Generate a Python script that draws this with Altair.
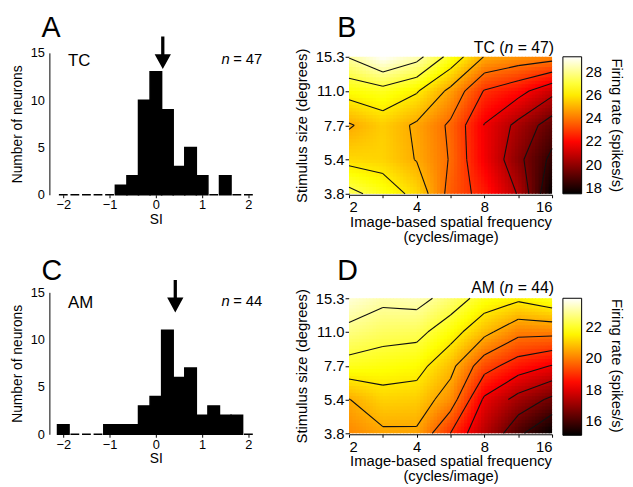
import json
import altair as alt
import pandas as pd

FONT = "Liberation Sans"

# ---------------- histogram data (SI, 0.25-wide bins) ----------------
si_bins = [-2.0, -1.75, -1.5, -1.25, -1.0, -0.75, -0.5, -0.25, 0.0,
           0.25, 0.5, 0.75, 1.0, 1.25, 1.5, 1.75, 2.0]
tc_counts = [0, 0, 0, 0, 0, 1, 2, 10, 13, 9, 3, 5, 2, 0, 2, 0, 0]
am_counts = [1, 0, 0, 0, 1, 1, 1, 3, 4, 11, 6, 7, 2, 3, 2, 2, 0]
tc_median_si = 0.15
am_median_si = 0.42

# ---------------- heat-map data ----------------
sf_tick_labels = ["2", "", "4", "", "8", "", "16"]          # 2 .. 16 cycles/image (half-octave grid)
size_tick_labels = ["3.8", "5.4", "7.7", "11.0", "15.3"]      # stimulus size (deg)

# firing rate (spikes/s); one list per stimulus size, columns = spatial frequency 2 .. 16
tc_rate_3_8 = [27.4, 26.6, 25.7, 23.5, 22.4, 20.6, 17.5]
tc_rate_5_4 = [25.7, 25.6, 24.9, 23.8, 21.75, 19.9, 18.3]
tc_rate_7_7 = [24.85, 25.5, 24.8, 23.7, 21.7, 20.4, 19.1]
tc_rate_11_0 = [26.4, 26.7, 26.1, 24.7, 22.75, 22.1, 21.0]
tc_rate_15_3 = [28.2, 29.3, 28.5, 26.7, 24.9, 24.5, 24.3]

am_rate_3_8 = [20.1, 20.45, 20.46, 19.0, 17.45, 16.05, 15.1]
am_rate_5_4 = [20.55, 21.06, 21.0, 20.2, 18.1, 17.18, 16.5]
am_rate_7_7 = [21.87, 21.74, 21.62, 20.8, 19.32, 18.64, 18.2]
am_rate_11_0 = [22.71, 22.44, 22.37, 21.67, 20.78, 20.0, 20.0]
am_rate_15_3 = [23.46, 23.1, 23.2, 22.6, 21.8, 21.5, 21.9]

tc_levels = [18.56, 19.63, 20.69, 21.75, 22.82, 23.88, 24.95, 26.01, 27.07, 28.14]
am_levels = [15.88, 16.66, 17.45, 18.23, 19.01, 19.79, 20.57, 21.35, 22.14, 22.92]

tc_colorbar_range = [17.5, 29.3]
am_colorbar_range = [15.1, 23.8]
tc_colorbar_ticks = [18, 20, 22, 24, 26, 28]
am_colorbar_ticks = [16, 18, 20, 22]

HOT = ["#000000", "#ff0000", "#ffff00", "#ffffff"]
SUB = 10
NX, NY = 6 * SUB, 4 * SUB
ARROW = "M-0.1,-1 L0.1,-1 L0.1,0.08 L0.5,0.08 L0,1 L-0.5,0.08 L-0.1,0.08 Z"

one = pd.DataFrame({"a": [0]})


def calc(chart, pairs):
    for name, expr in pairs:
        chart = chart.transform_calculate(**{name: expr})
    return chart


def text_at(txt, x, y, size, dx, dy, align="left", style="normal", angle=0, baseline="alphabetic"):
    return alt.Chart(one).mark_text(
        text=txt, font=FONT, fontSize=size, fontStyle=style, align=align,
        baseline=baseline, dx=dx, dy=dy, color="black", angle=angle,
    ).encode(x=alt.X(datum=x), y=alt.Y(datum=y))


def histogram(counts, median_si, region, n_cells, letter, arrow_y, letter_dy, region_dy, n_dy):
    df = pd.DataFrame({"si": si_bins, "count": counts})
    xs = alt.Scale(domain=[-2.3, 2.3], nice=False, zero=False)
    ys = alt.Scale(domain=[0, 15], nice=False, zero=True)
    bars = calc(alt.Chart(df), [
        ("lo", "datum.si - 0.125 + (datum.count == 0 ? 0.03 : 0)"),
        ("hi", "datum.si + 0.125 - (datum.count == 0 ? 0.03 : 0)"),
    ]).mark_rect(color="black", stroke="black", strokeWidth=1.5).encode(
        x=alt.X("lo:Q", scale=xs, axis=alt.Axis(
            values=[-2, -1, 0, 1, 2], tickCount=5, title="SI", domain=False, ticks=True,
            tickSize=3, labelFontSize=13, titleFontSize=14, labelPadding=1, titlePadding=1,
            grid=False)),
        x2="hi:Q",
        y=alt.Y("count:Q", scale=ys, axis=alt.Axis(
            values=[0, 5, 10, 15], tickCount=4, title="Number of neurons", domain=True,
            ticks=False, labelFontSize=13, titleFontSize=14, labelPadding=5, titlePadding=6,
            grid=False)),
        y2=alt.Y2(datum=0),
    )
    arrow = alt.Chart(one).mark_point(
        shape=ARROW, size=1089, filled=True, color="black", opacity=1, strokeWidth=0
    ).encode(x=alt.X(datum=median_si), y=alt.Y(datum=arrow_y))
    layers = [
        bars, arrow,
        text_at(letter, -2.3, 15, 29, -8, letter_dy),
        text_at(region, -2.3, 15, 17, 19, region_dy),
        text_at("= %d" % n_cells, 2.3, 15, 15, 0, n_dy, align="right"),
        text_at("n", 2.3, 15, 15, -33, n_dy, align="right", style="italic"),
    ]
    return alt.layer(*layers).properties(width=216, height=144)


def heatmap(rows, levels, cb_range, cb_ticks, region, n_cells, letter, top_off, letter_dy, title_dy):
    R = json.dumps(rows)
    LEV = json.dumps(levels)
    NL = len(levels)
    lo, hi = cb_range
    span = hi - lo
    cscale = alt.Scale(domain=[lo, lo + 0.375 * span, lo + 0.75 * span, hi], range=HOT,
                       interpolate="rgb", clamp=True)
    xs = alt.Scale(domain=[0, 6], nice=False, zero=False)
    ys = alt.Scale(domain=[0, 4], nice=False, zero=False, range=[143, top_off])

    rect = calc(alt.Chart(alt.sequence(0, NX * NY, as_="k")), [
        ("fi", f"datum.k % {NX}"),
        ("fj", f"floor(datum.k / {NX})"),
        ("u0", f"datum.fi / {SUB}"),
        ("u1", f"min((datum.fi + 1) / {SUB} + 0.03, 6)"),
        ("v0", f"datum.fj / {SUB}"),
        ("v1", f"min((datum.fj + 1) / {SUB} + 0.03, 4)"),
        ("uc", f"(datum.fi + 0.5) / {SUB}"),
        ("vc", f"(datum.fj + 0.5) / {SUB}"),
        ("i0", "floor(datum.uc)"),
        ("j0", "floor(datum.vc)"),
        ("fu", "datum.uc - datum.i0"),
        ("fv", "datum.vc - datum.j0"),
        ("val", f"{R}[datum.j0][datum.i0] * (1 - datum.fu) * (1 - datum.fv)"
                f" + {R}[datum.j0][datum.i0 + 1] * datum.fu * (1 - datum.fv)"
                f" + {R}[datum.j0 + 1][datum.i0] * (1 - datum.fu) * datum.fv"
                f" + {R}[datum.j0 + 1][datum.i0 + 1] * datum.fu * datum.fv"),
    ]).mark_rect(strokeWidth=0).encode(
        x=alt.X("u0:Q", scale=xs, axis=alt.Axis(
            values=list(range(7)), tickCount=7,
            labelExpr=f"{json.dumps(sf_tick_labels)}[datum.value]",
            title=["Image-based spatial frequency", "(cycles/image)"],
            labelFontSize=15, titleFontSize=15, titleLineHeight=15, tickSize=3,
            labelPadding=2, titlePadding=0, grid=False, domain=True, labelOverlap=False)),
        x2="u1:Q",
        y=alt.Y("v0:Q", scale=ys, axis=alt.Axis(
            values=list(range(5)), tickCount=5,
            labelExpr=f"{json.dumps(size_tick_labels)}[datum.value]",
            title="Stimulus size (degrees)", labelFontSize=15, titleFontSize=15,
            tickSize=4, labelPadding=1, titlePadding=6, grid=False, domain=True,
            labelOverlap=False, labelFlush=False)),
        y2="v1:Q",
        color=alt.Color("val:Q", scale=cscale, legend=alt.Legend(
            title=None, orient="none", legendX=217, legendY=top_off,
            direction="vertical", gradientLength=139, gradientThickness=19,
            gradientStrokeColor="black", gradientStrokeWidth=1, values=cb_ticks,
            tickCount=len(cb_ticks), labelFontSize=15, labelFont=FONT, labelOffset=4,
            labelColor="black", labelOverlap=False)),
    )

    contour = calc(alt.Chart(alt.sequence(0, 24 * NL * 2, as_="k")), [
        ("slot", "datum.k % 2"),
        ("li", f"floor(datum.k / 2) % {NL}"),
        ("cell", f"floor(datum.k / {2 * NL})"),
        ("ci", "datum.cell % 6"),
        ("cj", "floor(datum.cell / 6)"),
        ("lev", f"{LEV}[datum.li]"),
        ("a", f"{R}[datum.cj][datum.ci]"),
        ("b", f"{R}[datum.cj][datum.ci + 1]"),
        ("cc", f"{R}[datum.cj + 1][datum.ci + 1]"),
        ("d", f"{R}[datum.cj + 1][datum.ci]"),
        ("fb", "(datum.a - datum.lev) * (datum.b - datum.lev) < 0 ? 1 : 0"),
        ("fr", "(datum.b - datum.lev) * (datum.cc - datum.lev) < 0 ? 1 : 0"),
        ("ft", "(datum.d - datum.lev) * (datum.cc - datum.lev) < 0 ? 1 : 0"),
        ("fl", "(datum.a - datum.lev) * (datum.d - datum.lev) < 0 ? 1 : 0"),
        ("n", "datum.fb + datum.fr + datum.ft + datum.fl"),
    ]).transform_filter(
        "(datum.slot == 0 && datum.n >= 2) || (datum.slot == 1 && datum.n == 4)"
    )
    contour = calc(contour, [
        ("xb", "datum.ci + (datum.lev - datum.a) / (datum.b - datum.a)"),
        ("yb", "datum.cj"),
        ("xr", "datum.ci + 1"),
        ("yr", "datum.cj + (datum.lev - datum.b) / (datum.cc - datum.b)"),
        ("xt", "datum.ci + (datum.lev - datum.d) / (datum.cc - datum.d)"),
        ("yt", "datum.cj + 1"),
        ("xl", "datum.ci"),
        ("yl", "datum.cj + (datum.lev - datum.a) / (datum.d - datum.a)"),
        ("px", "datum.slot == 1 ? datum.xt : (datum.fb ? datum.xb : (datum.fr ? datum.xr : datum.xt))"),
        ("py", "datum.slot == 1 ? datum.yt : (datum.fb ? datum.yb : (datum.fr ? datum.yr : datum.yt))"),
        ("qx", "datum.slot == 1 ? datum.xl : ((datum.fb && datum.fr) ? datum.xr : "
               "((datum.ft && (datum.fb || datum.fr)) ? datum.xt : datum.xl))"),
        ("qy", "datum.slot == 1 ? datum.yl : ((datum.fb && datum.fr) ? datum.yr : "
               "((datum.ft && (datum.fb || datum.fr)) ? datum.yt : datum.yl))"),
    ]).mark_rule(color="#111111", strokeWidth=1.1).encode(
        x=alt.X("px:Q"), y=alt.Y("py:Q"),
        x2="qx:Q", y2="qy:Q",
    )

    layers = [
        rect, contour,
        text_at(letter, 0, 4, 29, -12, letter_dy),
        text_at("= %d)" % n_cells, 6, 4, 16, 2, title_dy, align="right"),
        text_at("n", 6, 4, 16, -39.4, title_dy, align="right", style="italic"),
        text_at(region + " (", 6, 4, 16, -48.3, title_dy, align="right"),
        text_at("Firing rate (spikes/s)", 6, 2, 15, 0, -66, align="center", angle=90,
                baseline="middle"),
    ]
    return alt.layer(*layers).properties(width=206, height=144)


tc_rows = [tc_rate_3_8, tc_rate_5_4, tc_rate_7_7, tc_rate_11_0, tc_rate_15_3]
am_rows = [am_rate_3_8, am_rate_5_4, am_rate_7_7, am_rate_11_0, am_rate_15_3]

hist_a = histogram(tc_counts, tc_median_si, "TC", 47, "A", 15.0, -16, 13, 11)
heat_b = heatmap(tc_rows, tc_levels, tc_colorbar_range, tc_colorbar_ticks, "TC", 47, "B", 4, -20, -4)
hist_c = histogram(am_counts, am_median_si, "AM", 44, "C", 14.6, -13, 16, 14)
heat_d = heatmap(am_rows, am_levels, am_colorbar_range, am_colorbar_ticks, "AM", 44, "D", 6, -19, -5)

chart = alt.concat(
    hist_a, heat_b, hist_c, heat_d, columns=2, bounds="flush",
    spacing={"row": 99, "column": 88},
).resolve_scale(
    color="independent"
).properties(
    padding={"left": 2, "top": 2, "right": 0, "bottom": 0}
).configure(font=FONT).configure_view(stroke="transparent").configure_axis(
    labelFont=FONT, titleFont=FONT, titleFontWeight="normal", labelColor="black",
    titleColor="black", domainColor="black", tickColor="black", domainWidth=1,
    labelOverlap=False,
)

chart.save("out.html", embed_options={"renderer": "svg", "actions": False})
